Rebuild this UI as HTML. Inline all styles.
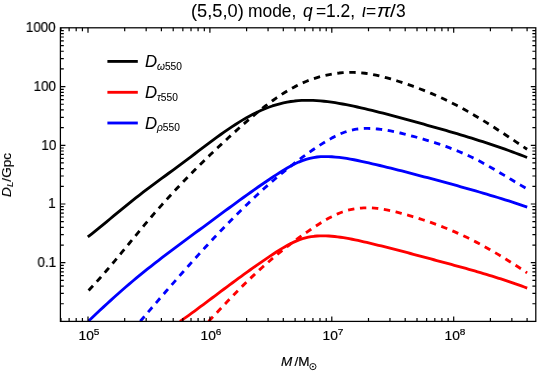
<!DOCTYPE html><html><head><meta charset="utf-8"><title>plot</title><style>
html,body{margin:0;padding:0;background:#fff;}
body{width:542px;height:371px;position:relative;overflow:hidden;font-family:"Liberation Sans",sans-serif;color:#000;}
.t,.yl,.xl,.lg{will-change:transform;-webkit-text-stroke:0.18px #000;}
.tt{-webkit-text-stroke:0.05px #000;}
.lx{-webkit-text-stroke:0.08px #000;}
.t{position:absolute;white-space:nowrap;line-height:1;transform-origin:0 0;}
.i{font-style:italic;}
.yl{position:absolute;font-size:13.8px;line-height:1;white-space:nowrap;right:485.9px;text-align:right;transform-origin:100% 50%;transform:scaleX(0.975);}
.xl{position:absolute;font-size:13px;line-height:1;white-space:nowrap;top:329px;transform:translateX(-50%) scaleX(1.06);}
.xl sup{font-size:9.5px;position:relative;top:-5.1px;vertical-align:baseline;line-height:0;}
.lg{position:absolute;left:146px;font-size:14.6px;line-height:1;white-space:nowrap;font-style:italic;transform-origin:0 50%;transform:scaleX(1.06);}
.lg sub{font-size:10.2px;position:relative;top:3.1px;vertical-align:baseline;line-height:0;font-style:normal;margin-left:1.2px}
</style></head><body>
<svg width="542" height="371" viewBox="0 0 542 371" style="position:absolute;left:0;top:0">
<defs><clipPath id="cp"><rect x="60.4" y="27.8" width="475.4" height="293.59999999999997"/></clipPath></defs>
<g clip-path="url(#cp)" fill="none" stroke-linecap="butt" stroke-linejoin="round">
<path d="M180.00,321.40 L182.92,319.41 L185.84,317.38 L188.75,315.31 L191.67,313.20 L194.59,311.06 L197.51,308.91 L200.42,306.73 L203.34,304.56 L206.26,302.37 L209.18,300.19 L212.09,298.00 L215.01,295.81 L217.93,293.63 L220.85,291.44 L223.76,289.26 L226.68,287.09 L229.60,284.92 L232.52,282.76 L235.44,280.60 L238.35,278.46 L241.27,276.33 L244.19,274.21 L247.11,272.10 L250.02,270.01 L252.94,267.93 L255.86,265.87 L258.78,263.83 L261.69,261.81 L264.61,259.81 L267.53,257.83 L270.45,255.88 L273.36,253.95 L276.28,252.05 L279.20,250.20 L282.12,248.41 L285.04,246.69 L287.95,245.06 L290.87,243.53 L293.79,242.11 L296.71,240.83 L299.62,239.68 L302.54,238.69 L305.46,237.87 L308.38,237.20 L311.29,236.68 L314.21,236.29 L317.13,236.02 L320.05,235.88 L322.96,235.83 L325.88,235.88 L328.80,236.02 L331.72,236.23 L334.64,236.51 L337.55,236.84 L340.47,237.23 L343.39,237.67 L346.31,238.15 L349.22,238.68 L352.14,239.24 L355.06,239.84 L357.98,240.46 L360.89,241.11 L363.81,241.77 L366.73,242.45 L369.65,243.14 L372.56,243.84 L375.48,244.54 L378.40,245.26 L381.32,245.98 L384.24,246.70 L387.15,247.44 L390.07,248.18 L392.99,248.93 L395.91,249.68 L398.82,250.43 L401.74,251.20 L404.66,251.96 L407.58,252.73 L410.49,253.50 L413.41,254.28 L416.33,255.05 L419.25,255.83 L422.16,256.61 L425.08,257.40 L428.00,258.18 L430.92,258.96 L433.84,259.75 L436.75,260.53 L439.67,261.31 L442.59,262.10 L445.51,262.89 L448.42,263.67 L451.34,264.47 L454.26,265.26 L457.18,266.06 L460.09,266.87 L463.01,267.68 L465.93,268.49 L468.85,269.32 L471.76,270.15 L474.68,270.99 L477.60,271.83 L480.52,272.69 L483.44,273.55 L486.35,274.42 L489.27,275.31 L492.19,276.21 L495.11,277.11 L498.02,278.03 L500.94,278.97 L503.86,279.92 L506.78,280.88 L509.69,281.85 L512.61,282.84 L515.53,283.85 L518.45,284.88 L521.36,285.92 L524.28,286.98 L527.20,288.05" stroke="#f00" stroke-width="2.85"/>
<path d="M208.60,321.40 L211.28,318.56 L213.95,315.72 L216.63,312.87 L219.31,310.03 L221.98,307.19 L224.66,304.36 L227.34,301.54 L230.01,298.74 L232.69,295.96 L235.36,293.21 L238.04,290.48 L240.72,287.78 L243.39,285.12 L246.07,282.50 L248.75,279.91 L251.42,277.36 L254.10,274.84 L256.78,272.36 L259.45,269.92 L262.13,267.51 L264.81,265.13 L267.48,262.79 L270.16,260.48 L272.84,258.21 L275.51,255.97 L278.19,253.76 L280.86,251.59 L283.54,249.45 L286.22,247.34 L288.89,245.26 L291.57,243.21 L294.25,241.20 L296.92,239.21 L299.60,237.26 L302.28,235.34 L304.95,233.44 L307.63,231.58 L310.31,229.75 L312.98,227.94 L315.66,226.17 L318.34,224.44 L321.01,222.75 L323.69,221.12 L326.36,219.56 L329.04,218.07 L331.72,216.66 L334.39,215.33 L337.07,214.11 L339.75,212.99 L342.42,211.98 L345.10,211.09 L347.78,210.31 L350.45,209.65 L353.13,209.10 L355.81,208.65 L358.48,208.30 L361.16,208.05 L363.84,207.89 L366.51,207.83 L369.19,207.85 L371.86,207.95 L374.54,208.14 L377.22,208.40 L379.89,208.73 L382.57,209.12 L385.25,209.57 L387.92,210.08 L390.60,210.64 L393.28,211.25 L395.95,211.90 L398.63,212.58 L401.31,213.30 L403.98,214.04 L406.66,214.80 L409.34,215.58 L412.01,216.38 L414.69,217.19 L417.36,218.02 L420.04,218.87 L422.72,219.74 L425.39,220.63 L428.07,221.54 L430.75,222.47 L433.42,223.43 L436.10,224.40 L438.78,225.40 L441.45,226.42 L444.13,227.46 L446.81,228.53 L449.48,229.63 L452.16,230.75 L454.84,231.90 L457.51,233.07 L460.19,234.27 L462.86,235.51 L465.54,236.77 L468.22,238.05 L470.89,239.37 L473.57,240.73 L476.25,242.11 L478.92,243.52 L481.60,244.96 L484.28,246.42 L486.95,247.92 L489.63,249.43 L492.31,250.98 L494.98,252.55 L497.66,254.14 L500.34,255.75 L503.01,257.38 L505.69,259.03 L508.36,260.70 L511.04,262.39 L513.72,264.10 L516.39,265.82 L519.07,267.55 L521.75,269.30 L524.42,271.07 L527.10,272.84" stroke="#f00" stroke-width="2.85" stroke-dasharray="6.4 5.6"/>
<path d="M88.60,320.92 L92.29,317.44 L95.97,313.97 L99.66,310.52 L103.34,307.10 L107.03,303.70 L110.71,300.34 L114.40,297.01 L118.09,293.72 L121.77,290.47 L125.46,287.27 L129.14,284.11 L132.83,281.00 L136.51,277.93 L140.20,274.91 L143.89,271.92 L147.57,268.97 L151.26,266.05 L154.94,263.16 L158.63,260.30 L162.31,257.46 L166.00,254.65 L169.69,251.86 L173.37,249.09 L177.06,246.33 L180.74,243.59 L184.43,240.86 L188.11,238.14 L191.80,235.42 L195.49,232.71 L199.17,230.00 L202.86,227.28 L206.54,224.57 L210.23,221.85 L213.91,219.12 L217.60,216.39 L221.29,213.67 L224.97,210.95 L228.66,208.23 L232.34,205.53 L236.03,202.83 L239.71,200.15 L243.40,197.49 L247.09,194.84 L250.77,192.22 L254.46,189.61 L258.14,187.04 L261.83,184.49 L265.51,181.97 L269.20,179.48 L272.89,177.03 L276.57,174.62 L280.26,172.25 L283.94,169.95 L287.63,167.76 L291.31,165.69 L295.00,163.79 L298.69,162.06 L302.37,160.56 L306.06,159.29 L309.74,158.29 L313.43,157.54 L317.11,157.02 L320.80,156.70 L324.49,156.56 L328.17,156.59 L331.86,156.76 L335.54,157.05 L339.23,157.43 L342.91,157.90 L346.60,158.45 L350.29,159.07 L353.97,159.76 L357.66,160.49 L361.34,161.27 L365.03,162.08 L368.71,162.91 L372.40,163.77 L376.09,164.64 L379.77,165.51 L383.46,166.40 L387.14,167.30 L390.83,168.21 L394.51,169.13 L398.20,170.06 L401.89,170.99 L405.57,171.94 L409.26,172.89 L412.94,173.85 L416.63,174.81 L420.31,175.78 L424.00,176.76 L427.69,177.74 L431.37,178.72 L435.06,179.71 L438.74,180.70 L442.43,181.70 L446.11,182.70 L449.80,183.71 L453.49,184.72 L457.17,185.73 L460.86,186.76 L464.54,187.79 L468.23,188.83 L471.91,189.88 L475.60,190.94 L479.29,192.00 L482.97,193.08 L486.66,194.17 L490.34,195.27 L494.03,196.38 L497.71,197.51 L501.40,198.65 L505.09,199.80 L508.77,200.97 L512.46,202.15 L516.14,203.35 L519.83,204.56 L523.51,205.80 L527.20,207.05" stroke="#00f" stroke-width="2.85"/>
<path d="M140.30,321.27 L143.55,317.46 L146.80,313.67 L150.05,309.87 L153.30,306.08 L156.55,302.31 L159.80,298.54 L163.05,294.78 L166.30,291.03 L169.55,287.29 L172.80,283.57 L176.05,279.86 L179.31,276.16 L182.56,272.49 L185.81,268.82 L189.06,265.18 L192.31,261.56 L195.56,257.96 L198.81,254.37 L202.06,250.81 L205.31,247.28 L208.56,243.77 L211.81,240.28 L215.06,236.82 L218.31,233.39 L221.56,229.99 L224.81,226.61 L228.06,223.27 L231.31,219.96 L234.56,216.68 L237.81,213.43 L241.06,210.22 L244.31,207.05 L247.56,203.91 L250.81,200.81 L254.06,197.75 L257.32,194.73 L260.57,191.75 L263.82,188.81 L267.07,185.91 L270.32,183.05 L273.57,180.23 L276.82,177.46 L280.07,174.73 L283.32,172.05 L286.57,169.41 L289.82,166.82 L293.07,164.28 L296.32,161.78 L299.57,159.34 L302.82,156.94 L306.07,154.59 L309.32,152.29 L312.57,150.04 L315.82,147.85 L319.07,145.70 L322.32,143.62 L325.57,141.61 L328.82,139.69 L332.07,137.88 L335.33,136.18 L338.58,134.63 L341.83,133.23 L345.08,132.00 L348.33,130.96 L351.58,130.11 L354.83,129.45 L358.08,128.96 L361.33,128.63 L364.58,128.45 L367.83,128.41 L371.08,128.49 L374.33,128.68 L377.58,128.97 L380.83,129.34 L384.08,129.79 L387.33,130.32 L390.58,130.91 L393.83,131.56 L397.08,132.26 L400.33,133.01 L403.58,133.80 L406.83,134.63 L410.08,135.48 L413.34,136.36 L416.59,137.25 L419.84,138.16 L423.09,139.10 L426.34,140.06 L429.59,141.05 L432.84,142.06 L436.09,143.10 L439.34,144.18 L442.59,145.30 L445.84,146.45 L449.09,147.64 L452.34,148.87 L455.59,150.15 L458.84,151.47 L462.09,152.85 L465.34,154.27 L468.59,155.75 L471.84,157.29 L475.09,158.88 L478.34,160.53 L481.59,162.25 L484.84,164.02 L488.09,165.83 L491.35,167.69 L494.60,169.59 L497.85,171.51 L501.10,173.45 L504.35,175.40 L507.60,177.37 L510.85,179.33 L514.10,181.28 L517.35,183.22 L520.60,185.14 L523.85,187.03 L527.10,188.89" stroke="#00f" stroke-width="2.85" stroke-dasharray="6.4 5.6"/>
<path d="M87.80,236.95 L91.49,234.07 L95.18,231.13 L98.87,228.15 L102.57,225.13 L106.26,222.08 L109.95,219.02 L113.64,215.94 L117.33,212.87 L121.02,209.82 L124.72,206.79 L128.41,203.79 L132.10,200.83 L135.79,197.92 L139.48,195.06 L143.17,192.23 L146.87,189.43 L150.56,186.65 L154.25,183.90 L157.94,181.17 L161.63,178.45 L165.32,175.73 L169.02,173.02 L172.71,170.31 L176.40,167.58 L180.09,164.85 L183.78,162.10 L187.47,159.33 L191.16,156.54 L194.86,153.74 L198.55,150.94 L202.24,148.14 L205.93,145.36 L209.62,142.59 L213.31,139.86 L217.01,137.16 L220.70,134.50 L224.39,131.89 L228.08,129.34 L231.77,126.86 L235.46,124.45 L239.16,122.12 L242.85,119.88 L246.54,117.73 L250.23,115.69 L253.92,113.77 L257.61,111.96 L261.31,110.27 L265.00,108.71 L268.69,107.28 L272.38,105.98 L276.07,104.81 L279.76,103.78 L283.45,102.88 L287.15,102.13 L290.84,101.52 L294.53,101.04 L298.22,100.68 L301.91,100.45 L305.60,100.33 L309.30,100.31 L312.99,100.40 L316.68,100.59 L320.37,100.86 L324.06,101.21 L327.75,101.64 L331.45,102.14 L335.14,102.71 L338.83,103.32 L342.52,103.99 L346.21,104.69 L349.90,105.44 L353.59,106.21 L357.29,107.01 L360.98,107.83 L364.67,108.68 L368.36,109.54 L372.05,110.43 L375.74,111.34 L379.44,112.27 L383.13,113.21 L386.82,114.17 L390.51,115.14 L394.20,116.12 L397.89,117.11 L401.59,118.12 L405.28,119.12 L408.97,120.14 L412.66,121.16 L416.35,122.18 L420.04,123.20 L423.74,124.23 L427.43,125.26 L431.12,126.29 L434.81,127.33 L438.50,128.38 L442.19,129.43 L445.88,130.49 L449.58,131.56 L453.27,132.64 L456.96,133.73 L460.65,134.83 L464.34,135.94 L468.03,137.07 L471.73,138.21 L475.42,139.36 L479.11,140.53 L482.80,141.72 L486.49,142.92 L490.18,144.14 L493.88,145.37 L497.57,146.63 L501.26,147.91 L504.95,149.21 L508.64,150.53 L512.33,151.87 L516.03,153.23 L519.72,154.62 L523.41,156.04 L527.10,157.48" stroke="#000" stroke-width="2.85"/>
<path d="M88.60,290.42 L92.28,286.54 L95.97,282.54 L99.65,278.45 L103.34,274.28 L107.02,270.02 L110.71,265.70 L114.39,261.33 L118.08,256.91 L121.76,252.46 L125.45,247.98 L129.13,243.50 L132.82,239.01 L136.50,234.54 L140.19,230.09 L143.87,225.66 L147.56,221.28 L151.24,216.96 L154.93,212.69 L158.61,208.48 L162.30,204.33 L165.98,200.24 L169.67,196.20 L173.35,192.21 L177.04,188.27 L180.72,184.38 L184.41,180.54 L188.09,176.74 L191.78,172.99 L195.46,169.28 L199.15,165.61 L202.83,161.99 L206.52,158.40 L210.20,154.84 L213.89,151.32 L217.57,147.83 L221.26,144.38 L224.94,140.95 L228.63,137.56 L232.31,134.19 L235.99,130.85 L239.68,127.54 L243.36,124.28 L247.05,121.07 L250.73,117.91 L254.42,114.82 L258.10,111.79 L261.79,108.84 L265.47,105.97 L269.16,103.18 L272.84,100.49 L276.53,97.90 L280.21,95.41 L283.90,93.03 L287.58,90.78 L291.27,88.64 L294.95,86.64 L298.64,84.78 L302.32,83.06 L306.01,81.48 L309.69,80.04 L313.38,78.74 L317.06,77.56 L320.75,76.51 L324.43,75.59 L328.12,74.78 L331.80,74.09 L335.49,73.51 L339.17,73.04 L342.86,72.69 L346.54,72.47 L350.23,72.37 L353.91,72.39 L357.60,72.55 L361.28,72.84 L364.97,73.25 L368.65,73.79 L372.34,74.44 L376.02,75.19 L379.71,76.03 L383.39,76.95 L387.07,77.94 L390.76,78.99 L394.44,80.09 L398.13,81.24 L401.81,82.42 L405.50,83.64 L409.18,84.91 L412.87,86.21 L416.55,87.56 L420.24,88.96 L423.92,90.40 L427.61,91.89 L431.29,93.42 L434.98,95.00 L438.66,96.64 L442.35,98.32 L446.03,100.06 L449.72,101.85 L453.40,103.70 L457.09,105.60 L460.77,107.55 L464.46,109.57 L468.14,111.63 L471.83,113.75 L475.51,115.91 L479.20,118.12 L482.88,120.36 L486.57,122.65 L490.25,124.97 L493.94,127.31 L497.62,129.69 L501.31,132.09 L504.99,134.51 L508.68,136.94 L512.36,139.39 L516.05,141.86 L519.73,144.33 L523.42,146.80 L527.10,149.28" stroke="#000" stroke-width="2.85" stroke-dasharray="6.4 5.6"/>
</g>
<rect x="60.4" y="27.8" width="475.4" height="293.59999999999997" fill="none" stroke="#000" stroke-width="1.25"/>
<path d="M60.96,321.4 v-3.4 M60.96,27.8 v3.4 M69.12,321.4 v-3.4 M69.12,27.8 v3.4 M76.19,321.4 v-3.4 M76.19,27.8 v3.4 M82.42,321.4 v-3.4 M82.42,27.8 v3.4 M88.00,321.4 v-5.0 M88.00,27.8 v5.0 M124.70,321.4 v-3.4 M124.70,27.8 v3.4 M146.16,321.4 v-3.4 M146.16,27.8 v3.4 M161.39,321.4 v-3.4 M161.39,27.8 v3.4 M173.20,321.4 v-3.4 M173.20,27.8 v3.4 M182.86,321.4 v-3.4 M182.86,27.8 v3.4 M191.02,321.4 v-3.4 M191.02,27.8 v3.4 M198.09,321.4 v-3.4 M198.09,27.8 v3.4 M204.32,321.4 v-3.4 M204.32,27.8 v3.4 M209.90,321.4 v-5.0 M209.90,27.8 v5.0 M246.60,321.4 v-3.4 M246.60,27.8 v3.4 M268.06,321.4 v-3.4 M268.06,27.8 v3.4 M283.29,321.4 v-3.4 M283.29,27.8 v3.4 M295.10,321.4 v-3.4 M295.10,27.8 v3.4 M304.76,321.4 v-3.4 M304.76,27.8 v3.4 M312.92,321.4 v-3.4 M312.92,27.8 v3.4 M319.99,321.4 v-3.4 M319.99,27.8 v3.4 M326.22,321.4 v-3.4 M326.22,27.8 v3.4 M331.80,321.4 v-5.0 M331.80,27.8 v5.0 M368.50,321.4 v-3.4 M368.50,27.8 v3.4 M389.96,321.4 v-3.4 M389.96,27.8 v3.4 M405.19,321.4 v-3.4 M405.19,27.8 v3.4 M417.00,321.4 v-3.4 M417.00,27.8 v3.4 M426.66,321.4 v-3.4 M426.66,27.8 v3.4 M434.82,321.4 v-3.4 M434.82,27.8 v3.4 M441.89,321.4 v-3.4 M441.89,27.8 v3.4 M448.12,321.4 v-3.4 M448.12,27.8 v3.4 M453.70,321.4 v-5.0 M453.70,27.8 v5.0 M490.40,321.4 v-3.4 M490.40,27.8 v3.4 M511.86,321.4 v-3.4 M511.86,27.8 v3.4 M527.09,321.4 v-3.4 M527.09,27.8 v3.4 M60.4,303.73 h3.4 M535.8,303.73 h-3.4 M60.4,293.39 h3.4 M535.8,293.39 h-3.4 M60.4,286.06 h3.4 M535.8,286.06 h-3.4 M60.4,280.37 h3.4 M535.8,280.37 h-3.4 M60.4,275.72 h3.4 M535.8,275.72 h-3.4 M60.4,271.79 h3.4 M535.8,271.79 h-3.4 M60.4,268.39 h3.4 M535.8,268.39 h-3.4 M60.4,265.39 h3.4 M535.8,265.39 h-3.4 M60.4,262.70 h5.0 M535.8,262.70 h-5.0 M60.4,245.03 h3.4 M535.8,245.03 h-3.4 M60.4,234.69 h3.4 M535.8,234.69 h-3.4 M60.4,227.36 h3.4 M535.8,227.36 h-3.4 M60.4,221.67 h3.4 M535.8,221.67 h-3.4 M60.4,217.02 h3.4 M535.8,217.02 h-3.4 M60.4,213.09 h3.4 M535.8,213.09 h-3.4 M60.4,209.69 h3.4 M535.8,209.69 h-3.4 M60.4,206.69 h3.4 M535.8,206.69 h-3.4 M60.4,204.00 h5.0 M535.8,204.00 h-5.0 M60.4,186.33 h3.4 M535.8,186.33 h-3.4 M60.4,175.99 h3.4 M535.8,175.99 h-3.4 M60.4,168.66 h3.4 M535.8,168.66 h-3.4 M60.4,162.97 h3.4 M535.8,162.97 h-3.4 M60.4,158.32 h3.4 M535.8,158.32 h-3.4 M60.4,154.39 h3.4 M535.8,154.39 h-3.4 M60.4,150.99 h3.4 M535.8,150.99 h-3.4 M60.4,147.99 h3.4 M535.8,147.99 h-3.4 M60.4,145.30 h5.0 M535.8,145.30 h-5.0 M60.4,127.63 h3.4 M535.8,127.63 h-3.4 M60.4,117.29 h3.4 M535.8,117.29 h-3.4 M60.4,109.96 h3.4 M535.8,109.96 h-3.4 M60.4,104.27 h3.4 M535.8,104.27 h-3.4 M60.4,99.62 h3.4 M535.8,99.62 h-3.4 M60.4,95.69 h3.4 M535.8,95.69 h-3.4 M60.4,92.29 h3.4 M535.8,92.29 h-3.4 M60.4,89.29 h3.4 M535.8,89.29 h-3.4 M60.4,86.60 h5.0 M535.8,86.60 h-5.0 M60.4,68.93 h3.4 M535.8,68.93 h-3.4 M60.4,58.59 h3.4 M535.8,58.59 h-3.4 M60.4,51.26 h3.4 M535.8,51.26 h-3.4 M60.4,45.57 h3.4 M535.8,45.57 h-3.4 M60.4,40.92 h3.4 M535.8,40.92 h-3.4 M60.4,36.99 h3.4 M535.8,36.99 h-3.4 M60.4,33.59 h3.4 M535.8,33.59 h-3.4 M60.4,30.59 h3.4 M535.8,30.59 h-3.4" stroke="#000" stroke-width="1.2" fill="none"/>
<path d="M107.4,61.4 H137.8" stroke="#000" stroke-width="2.85" fill="none"/>
<path d="M107.4,92.3 H137.8" stroke="#f00" stroke-width="2.85" fill="none"/>
<path d="M107.4,123.0 H137.8" stroke="#00f" stroke-width="2.85" fill="none"/>
<circle cx="312.9" cy="366.6" r="3.1" fill="none" stroke="#000" stroke-width="0.9"/><circle cx="312.9" cy="366.6" r="0.9" fill="#000"/>
</svg>
<div class="t tt" style="left:190.60px;top:2.2px;font-size:17.2px;transform:translateY(0.6px) scale(1.062,1.02)">(5,5,0)</div>
<div class="t tt" style="left:248.20px;top:2.2px;font-size:17.2px;transform:translateY(0.6px) scale(1.013,1.02)">mode,</div>
<div class="t i tt" style="left:303.00px;top:2.2px;font-size:17.2px;transform:translateY(0.6px) scale(1.013,1.02)">q</div>
<div class="t tt" style="left:315.60px;top:2.2px;font-size:17.2px;transform:translateY(0.6px) scale(1.013,1.02)">=</div>
<div class="t tt" style="left:325.80px;top:2.2px;font-size:17.2px;transform:translateY(0.6px) scale(1.013,1.02)">1.2,</div>
<div class="t i tt" style="left:361.50px;top:2.2px;font-size:17.2px;transform:translateY(0.6px) scale(1.013,1.02)">&#953;</div>
<div class="t tt" style="left:366.10px;top:2.2px;font-size:17.2px;transform:translateY(0.6px) scale(1.013,1.02)">=</div>
<div class="t i tt" style="left:376.60px;top:2.2px;font-size:17.2px;transform:translateY(0.6px) scale(1.18,1.02)">&#960;</div>
<div class="t tt" style="left:390.40px;top:2.2px;font-size:17.2px;transform:translateY(0.6px) scale(1.2,1.02)">/</div>
<div class="t tt" style="left:395.50px;top:2.2px;font-size:17.2px;transform:translateY(0.6px) scale(1.013,1.02)">3</div>
<div class="yl" style="top:21.10px">1000</div>
<div class="yl" style="top:79.80px">100</div>
<div class="yl" style="top:138.50px">10</div>
<div class="yl" style="top:197.20px">1</div>
<div class="yl" style="top:255.90px">0.1</div>
<div class="xl" style="left:88.90px">10<sup>5</sup></div>
<div class="xl" style="left:210.80px">10<sup>6</sup></div>
<div class="xl" style="left:332.70px">10<sup>7</sup></div>
<div class="xl" style="left:454.60px">10<sup>8</sup></div>
<div class="t i lx" style="left:145.1px;top:53.20px;font-size:15.4px;transform:scale(1.09,1.05)">D</div>
<div class="t lx" style="left:157.20px;top:61.85px;font-size:10.1px;transform:scaleX(1.01)"><span class="i">&#969;</span>550</div>
<div class="t i lx" style="left:145.1px;top:84.10px;font-size:15.4px;transform:scale(1.09,1.05)">D</div>
<div class="t lx" style="left:157.20px;top:92.75px;font-size:10.1px;transform:scaleX(1.01)"><span class="i">&#964;</span>550</div>
<div class="t i lx" style="left:145.1px;top:114.80px;font-size:15.4px;transform:scale(1.09,1.05)">D</div>
<div class="t lx" style="left:156.60px;top:123.45px;font-size:10.1px;transform:scaleX(1.01)"><span class="i">&#961;</span>550</div>
<div class="t" id="xlab" style="left:280.6px;top:355.2px;font-size:13px;transform:scaleX(1.04)"><span class="i">M</span><span style="margin-left:2.2px">/M</span></div>
<div class="t" id="ylab" style="left:0.4px;top:196.8px;font-size:13px;transform:rotate(-90deg) scaleX(1.05);transform-origin:0 0"><span class="i">D<sub style="font-size:9.3px;position:relative;top:1.6px;vertical-align:baseline;line-height:0">L</sub></span>/Gpc</div>
</body></html>
